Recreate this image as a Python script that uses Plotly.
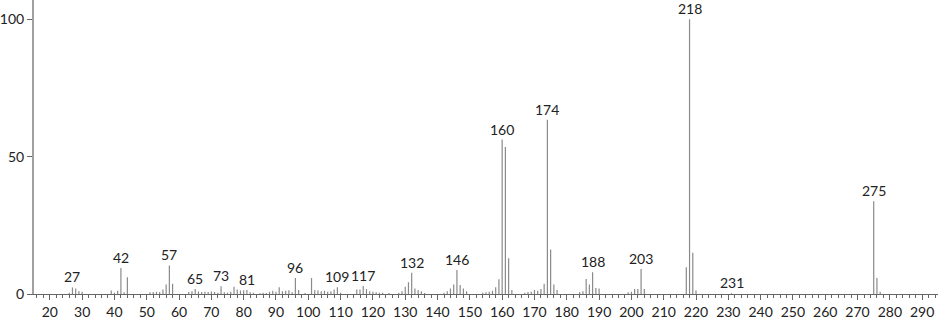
import plotly.graph_objects as go

mz = [26, 27, 28, 29, 30,
      39, 40, 41, 42, 43, 44,
      51, 52, 53, 54, 55, 56, 57, 58,
      63, 64, 65, 66, 67, 68, 69, 70, 71, 72, 73, 74, 75, 76, 77, 78, 79, 80, 81, 82, 83,
      85, 86, 87, 88, 89, 90, 91, 92, 93, 94, 95, 96, 97, 99,
      101, 102, 103, 104, 105, 106, 107, 108, 109, 110,
      115, 116, 117, 118, 119, 120, 121, 122, 123, 125,
      128, 129, 130, 131, 132, 133, 134, 135, 136,
      142, 143, 144, 145, 146, 147, 148, 149,
      154, 155, 156, 157, 158, 159, 160, 161, 162, 163,
      167, 168, 169, 170, 171, 172, 173, 174, 175, 176, 177,
      184, 185, 186, 187, 188, 189, 190,
      199, 200, 201, 202, 203, 204,
      217, 218, 219, 220,
      231,
      275, 276, 277]
intensity = [0.5, 2.4, 2.0, 1.1, 0.8,
             1.3, 0.5, 1.2, 9.5, 0.6, 6.1,
             0.6, 0.7, 0.8, 0.7, 1.6, 3.5, 10.4, 3.7,
             0.7, 1.0, 1.8, 0.9, 0.7, 0.8, 0.7, 0.9, 0.7, 0.5, 2.8, 0.6, 0.5, 0.8, 2.6, 1.6, 1.3, 1.4, 1.5, 0.6, 0.5,
             0.3, 0.5, 0.4, 0.8, 1.2, 0.8, 2.5, 1.0, 1.2, 1.4, 0.6, 5.8, 1.5, 0.4,
             5.8, 1.4, 1.3, 1.0, 1.2, 0.8, 1.0, 1.6, 2.5, 0.5,
             1.6, 1.6, 2.9, 1.8, 1.0, 0.8, 0.6, 0.5, 0.5, 0.4,
             0.5, 1.0, 2.6, 4.3, 7.7, 2.0, 1.5, 1.0, 0.4,
             0.5, 1.0, 2.0, 3.5, 8.7, 3.3, 2.0, 1.0,
             0.5, 0.6, 0.8, 1.2, 2.5, 5.4, 56.2, 53.5, 13.0, 1.5,
             0.5, 0.7, 0.8, 1.5, 1.2, 1.8, 3.7, 63.4, 16.2, 3.5, 1.5,
             0.7, 1.0, 5.5, 3.5, 7.9, 2.2, 2.0,
             0.6, 0.8, 1.8, 1.8, 9.1, 1.8,
             9.7, 100.0, 15.0, 1.3,
             0.3,
             33.8, 5.8, 0.8]
labeled = [27, 42, 57, 65, 73, 81, 96, 109, 117, 132, 146, 160, 174, 188, 203, 218, 231, 275]

xs, ys = [], []
for m, v in zip(mz, intensity):
    xs += [m, m, None]
    ys += [0, v, None]

fig = go.Figure()
fig.add_trace(go.Scatter(x=xs, y=ys, mode="lines",
                         line=dict(color="#8a8a8a", width=1.2),
                         hoverinfo="skip", showlegend=False))

lookup = dict(zip(mz, intensity))
for m in labeled:
    fig.add_annotation(x=m, y=lookup[m], text=str(m), showarrow=False,
                       yanchor="bottom", yshift=0,
                       font=dict(family="Lato", size=14, color="#222"))

fig.update_layout(
    width=940, height=320,
    margin=dict(l=29, r=2, t=0, b=23),
    paper_bgcolor="white", plot_bgcolor="white",
    font=dict(family="Lato", size=14, color="#222"),
    xaxis=dict(range=[15.1, 294.9], tickmode="linear", tick0=20, dtick=10,
               showgrid=False, zeroline=False, showline=True,
               linecolor="#666", linewidth=1,
               ticks="outside", ticklen=5, tickcolor="#666",
               minor=dict(dtick=2, tick0=20, ticks="outside", ticklen=3, tickcolor="#666"),
               tickfont=dict(size=14)),
    yaxis=dict(range=[0, 107.0], tickvals=[0, 50, 100],
               showgrid=False, zeroline=False, showline=True,
               linecolor="#a0a0a0", linewidth=2,
               ticks="outside", ticklen=5, tickcolor="#666",
               tickfont=dict(size=14)),
)

fig.write_html("out.html")
